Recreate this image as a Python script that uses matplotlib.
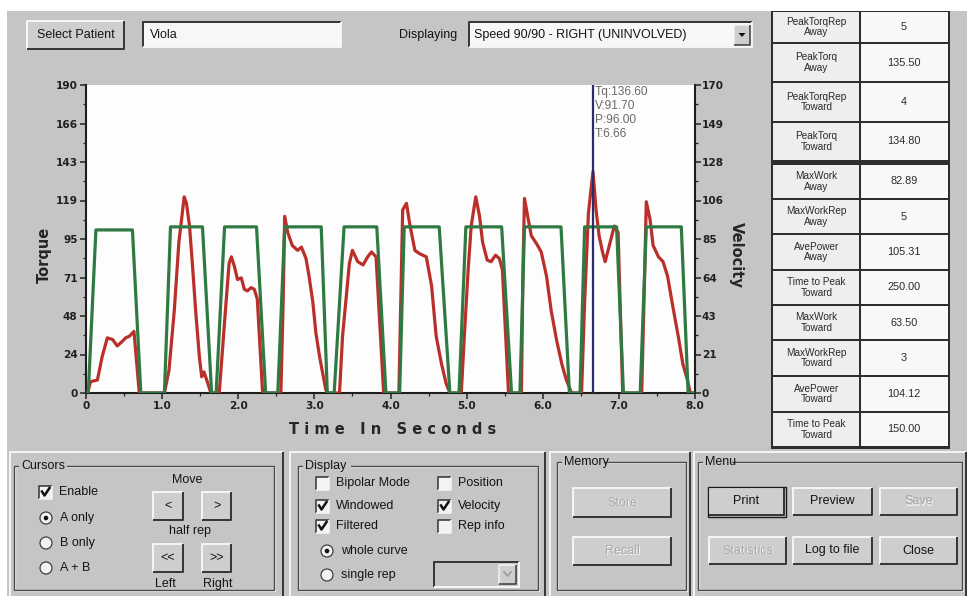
import numpy as np
import matplotlib
matplotlib.use("Agg")
import matplotlib.pyplot as plt
from matplotlib.patches import Rectangle, Circle, Polygon
from matplotlib.ticker import MultipleLocator

# ---------------------------------------------------------------- data
time_ticks = [0, 1, 2, 3, 4, 5, 6, 7, 8]
time_tick_labels = ["0", "1.0", "2.0", "3.0", "4.0", "5.0", "6.0", "7.0", "8.0"]
torque_tick_labels = ["0", "24", "48", "71", "95", "119", "143", "166", "190"]
velocity_tick_labels = ["0", "21", "43", "64", "85", "106", "128", "149", "170"]
torque_max = 190
velocity_max = 170

# velocity trace (s, deg/s)
velocity_time = [0.00, 0.03, 0.13, 0.61, 0.72,
                 1.03, 1.11, 1.53, 1.65,
                 1.71, 1.82, 2.24, 2.36,
                 2.52, 2.61, 3.09, 3.17,
                 3.26, 3.39, 3.82, 3.94,
                 4.12, 4.18, 4.64, 4.78,
                 4.90, 4.99, 5.46, 5.59,
                 5.70, 5.76, 6.24, 6.35,
                 6.49, 6.55, 6.97, 7.06,
                 7.28, 7.36, 7.82, 7.91, 8.00]
velocity_values = [0, 0, 90.0, 90.0, 0,
                   0, 91.7, 91.7, 0,
                   0, 91.7, 91.7, 0,
                   0, 91.7, 91.7, 0,
                   0, 91.7, 91.7, 0,
                   0, 91.7, 91.7, 0,
                   0, 91.7, 91.7, 0,
                   0, 91.7, 91.7, 0,
                   0, 91.7, 91.7, 0,
                   0, 91.7, 91.7, 0, 0]

# torque trace (s, ft-lb)
torque_time = [0.00, 0.02, 0.06, 0.15, 0.21, 0.28, 0.35, 0.41, 0.48, 0.52, 0.57, 0.63, 0.70,
               1.03, 1.09, 1.16, 1.22, 1.27, 1.29, 1.32, 1.36, 1.40, 1.44, 1.49, 1.52, 1.55, 1.60, 1.64,
               1.75, 1.79, 1.84, 1.88, 1.91, 1.95, 1.99, 2.04, 2.08, 2.12, 2.17, 2.21, 2.25, 2.32,
               2.56, 2.59, 2.61, 2.65, 2.71, 2.78, 2.83, 2.89, 2.93, 2.98, 3.02, 3.07, 3.11, 3.15, 3.17,
               3.33, 3.37, 3.42, 3.46, 3.50, 3.57, 3.64, 3.70, 3.75, 3.81, 3.91,
               4.11, 4.16, 4.21, 4.25, 4.32, 4.38, 4.47, 4.54, 4.60, 4.67, 4.73, 4.78,
               4.93, 4.97, 5.02, 5.06, 5.12, 5.17, 5.21, 5.27, 5.32, 5.38, 5.43, 5.47, 5.55,
               5.72, 5.74, 5.76, 5.81, 5.85, 5.92, 5.98, 6.05, 6.11, 6.18, 6.25, 6.31, 6.38,
               6.51, 6.55, 6.60, 6.66, 6.70, 6.74, 6.79, 6.82, 6.88, 6.94, 6.99, 7.05,
               7.30, 7.34, 7.36, 7.41, 7.45, 7.52, 7.58, 7.64, 7.71, 7.78, 7.84, 7.90, 7.94, 8.00]
torque_values = [0, 0, 7, 8, 22, 34, 33, 29, 32, 34, 35, 38, 0,
                 0, 14, 51, 93, 113, 121, 117, 103, 78, 51, 22, 10, 13, 6, 0,
                 0, 25, 56, 80, 84, 78, 70, 71, 64, 63, 65, 64, 58, 0,
                 0, 56, 109, 99, 91, 88, 90, 83, 72, 56, 37, 22, 12, 2, 0,
                 0, 35, 60, 80, 88, 81, 79, 84, 87, 84, 0,
                 0, 113, 117, 105, 88, 86, 84, 66, 35, 18, 6, 0,
                 0, 35, 76, 103, 121, 109, 93, 82, 81, 85, 83, 76, 0,
                 0, 76, 120, 107, 97, 92, 87, 72, 51, 33, 18, 8, 0,
                 0, 56, 111, 136.6, 113, 97, 86, 81, 92, 103, 99, 0,
                 0, 76, 118, 107, 91, 84, 81, 72, 53, 35, 18, 8, 0, 0]

# cursor A readout
cursor_time = 6.66
cursor_lines = ["Tq:136.60", "V:91.70", "P:96.00", "T:6.66"]

# results table
table_labels = ["PeakTorqRep\nAway", "PeakTorq\nAway", "PeakTorqRep\nToward", "PeakTorq\nToward",
                "MaxWork\nAway", "MaxWorkRep\nAway", "AvePower\nAway", "Time to Peak\nToward",
                "MaxWork\nToward", "MaxWorkRep\nToward", "AvePower\nToward", "Time to Peak\nToward"]
table_values = ["5", "135.50", "4", "134.80",
                "82.89", "5", "105.31", "250.00",
                "63.50", "3", "104.12", "150.00"]

patient_name = "Viola"
displaying = "Speed 90/90 - RIGHT (UNINVOLVED)"

# ---------------------------------------------------------------- canvas
W, H, DPI = 967, 596, 100
BG = "#c5c5c5"
FACE = "#cecece"
DARK = "#383838"
MID = "#7c7c7c"
LIGHT = "#f4f4f4"
UIF = "Liberation Sans"

fig = plt.figure(figsize=(W / DPI, H / DPI), dpi=DPI, facecolor=BG)
ui = fig.add_axes([0, 0, 1, 1])
ui.set_xlim(0, W)
ui.set_ylim(H, 0)
ui.axis("off")
ui.set_zorder(0)

PX = 0.72  # one pixel in points


def rect(x0, y0, x1, y1, fc="none", ec="none", lw=1.0, z=1):
    ui.add_patch(Rectangle((x0, y0), x1 - x0, y1 - y0, facecolor=fc,
                           edgecolor=ec, linewidth=lw * PX, zorder=z))


def bevel(x0, y0, x1, y1, raised=True, lw=1.5, z=3):
    tl, br = (LIGHT, DARK) if raised else (DARK, LIGHT)
    ui.plot([x0, x0, x1], [y1, y0, y0], color=tl, lw=lw * PX, zorder=z, solid_capstyle="butt")
    ui.plot([x0, x1, x1], [y1, y1, y0], color=br, lw=lw * PX, zorder=z, solid_capstyle="butt")


def label(x, y, s, size=8.5, ha="left", color="#141414", z=5, **kw):
    ui.text(x, y, s, fontsize=size, ha=ha, va="center", color=color,
            family=UIF, zorder=z, **kw)


def button(x0, y0, x1, y1, s, enabled=True, default=False):
    rect(x0, y0, x1, y1, fc=FACE, z=2)
    bevel(x0, y0, x1, y1, raised=True, lw=2)
    if default:
        rect(x0 - 1.5, y0 - 1.5, x1 + 1.5, y1 + 1.5, ec="#1c1c1c", lw=1.4, z=4)
    cx, cy = (x0 + x1) / 2, (y0 + y1) / 2
    if enabled:
        label(cx, cy, s, size=9, ha="center")
    else:
        label(cx + 1, cy + 1, s, size=9, ha="center", color="#f6f6f6")
        label(cx, cy, s, size=9, ha="center", color="#a8a8a8")


def groupbox(x0, y0, x1, y1, s):
    rect(x0 + 1, y0 + 1, x1 + 1, y1 + 1, ec=LIGHT, lw=1.2, z=2)
    rect(x0, y0, x1, y1, ec="#4a4a4a", lw=1.4, z=2)
    w = len(s) * 6.3 + 4
    rect(x0 + 5, y0 - 5, x0 + 5 + w, y0 + 5, fc=BG, z=3)
    label(x0 + 7, y0, s, size=9)


def checkbox(x, y, checked, s):
    rect(x, y - 6.5, x + 13, y + 6.5, fc="#f3f3f3", z=3)
    bevel(x, y - 6.5, x + 13, y + 6.5, raised=False, lw=1.6, z=4)
    if checked:
        ui.plot([x + 3, x + 5.5, x + 10.5], [y - 0.5, y + 3.5, y - 4],
                color="#111111", lw=1.8, zorder=5)
    label(x + 20, y, s, size=9)


def radio(x, y, selected, s):
    ui.add_patch(Circle((x + 6, y), 6, facecolor="#f3f3f3", edgecolor="#3a3a3a",
                        linewidth=1.2 * PX, zorder=3))
    if selected:
        ui.add_patch(Circle((x + 6, y), 2.3, facecolor="#111111", edgecolor="none", zorder=4))
    label(x + 20, y, s, size=9)


# white scanner margin on the top and left edge
rect(0, 0, W, 11, fc="white", z=1)
rect(0, 0, 7, H, fc="white", z=1)

# ---------------------------------------------------------------- top bar
button(27, 21, 124, 49, "Select Patient")
rect(143, 22, 341, 47, fc="#f7f7f7", z=2)
bevel(143, 22, 341, 47, raised=False, lw=2)
label(150, 35, patient_name, size=9)
label(399, 35, "Displaying", size=9)
rect(469, 22, 752, 47, fc="#f7f7f7", z=2)
bevel(469, 22, 752, 47, raised=False, lw=2)
label(474, 35, displaying, size=9)
rect(734, 25, 750, 45, fc=FACE, z=4)
bevel(734, 25, 750, 45, raised=True, lw=1.5, z=5)
ui.add_patch(Polygon([[738.5, 33], [745.5, 33], [742, 37]], closed=True,
                     facecolor="#111111", edgecolor="none", zorder=6))

# ---------------------------------------------------------------- results table
row_edges = [[11, 43, 82, 122, 161], [164, 199, 234, 270, 305, 340, 376, 412, 447]]
c0, c1, c2 = 773, 860, 948
rect(c0 - 2, 9, c2 + 2, 449, fc="#2e2e2e", z=2)
k = 0
for edges in row_edges:
    for y0, y1 in zip(edges[:-1], edges[1:]):
        rect(c0, y0 + 1, c1 - 1, y1 - 1, fc="#eeeeee", z=3)
        rect(c1 + 1, y0 + 1, c2, y1 - 1, fc="#f8f8f8", z=3)
        ym = (y0 + y1) / 2
        ui.text((c0 + c1) / 2, ym, table_labels[k], fontsize=7.2, ha="center", va="center",
                family=UIF, color="#2a2a2a", linespacing=1.05, zorder=5)
        label((c1 + c2) / 2, ym, table_values[k], size=7.8, ha="center", color="#2a2a2a")
        k += 1
rect(0, 0, W, 11, fc="white", z=6)

# ---------------------------------------------------------------- bottom panels
for x0, x1 in [(10, 283), (290, 545), (550, 690), (694, 966)]:
    rect(x0, 452, x1, 597, fc=BG, z=1)
    bevel(x0, 452, x1, 597, raised=True, lw=2, z=2)

groupbox(14, 466, 274, 590, "Cursors")
checkbox(39, 492, True, "Enable")
radio(40, 518, True, "A only")
radio(40, 543, False, "B only")
radio(40, 568, False, "A + B")
label(187, 480, "Move", size=9, ha="center")
button(153, 492, 183, 520, "<")
button(202, 492, 231, 520, ">")
label(190, 531, "half rep", size=9, ha="center")
button(153, 544, 183, 572, "<<")
button(202, 544, 231, 572, ">>")
label(165, 584, "Left", size=9, ha="center")
label(218, 584, "Right", size=9, ha="center")

groupbox(298, 466, 538, 590, "Display")
checkbox(316, 483, False, "Bipolar Mode")
checkbox(316, 506, True, "Windowed")
checkbox(316, 526, True, "Filtered")
checkbox(438, 483, False, "Position")
checkbox(438, 506, True, "Velocity")
checkbox(438, 526, False, "Rep info")
radio(321, 551, True, "whole curve")
radio(321, 575, False, "single rep")
rect(434, 562, 519, 587, fc=BG, z=2)
bevel(434, 562, 519, 587, raised=False, lw=2)
rect(499, 565, 516, 584, fc=FACE, z=4)
bevel(499, 565, 516, 584, raised=True, lw=1.5, z=5)
ui.plot([504, 507.5, 511], [572, 576, 572], color="#9a9a9a", lw=1.2, zorder=6)

groupbox(557, 462, 686, 590, "Memory")
button(573, 488, 671, 517, "Store", enabled=False)
button(573, 537, 671, 565, "Recall", enabled=False)

groupbox(698, 462, 962, 590, "Menu")
button(709, 488, 784, 515, "Print", default=True)
button(793, 488, 872, 515, "Preview")
button(880, 488, 957, 515, "Save", enabled=False)
button(709, 537, 786, 564, "Statistics", enabled=False)
button(793, 537, 872, 564, "Log to file")
button(880, 537, 957, 564, "Close")

# ---------------------------------------------------------------- chart
L, R, T, B = 86, 695, 85, 393
ax = fig.add_axes([L / W, 1 - B / H, (R - L) / W, (B - T) / H])
ax.set_zorder(2)
ax.set_facecolor("#fdfdfd")
ax.set_xlim(0, 8)
ax.set_ylim(0, torque_max)

ax2 = ax.twinx()
ax2.set_ylim(0, velocity_max)

red = "#bb2f2a"
green = "#2f7a42"
ax.plot(torque_time, torque_values, color=red, lw=2.3, solid_joinstyle="round", zorder=3)
ax2.plot(velocity_time, velocity_values, color=green, lw=2.3, solid_joinstyle="round", zorder=3)

# cursor A
ax2.axvline(cursor_time, color="#2a2c6e", lw=1.6, zorder=5)
ax2.annotate("\n".join(cursor_lines), xy=(cursor_time, 1.0), xycoords=("data", "axes fraction"),
             xytext=(1.5, -1), textcoords="offset points", ha="left", va="top",
             fontsize=8.6, color="#6a6a6a", family=UIF, linespacing=1.22, zorder=6)

tick_font = dict(fontsize=7.6, fontweight="bold", color="#202020", family="DejaVu Sans")
ax.set_xticks(time_ticks)
ax.set_xticklabels(time_tick_labels, **tick_font)
ax.set_yticks(np.linspace(0, torque_max, len(torque_tick_labels)))
ax.set_yticklabels(torque_tick_labels, **tick_font)
ax2.set_yticks(np.linspace(0, velocity_max, len(velocity_tick_labels)))
ax2.set_yticklabels(velocity_tick_labels, **tick_font)
ax.xaxis.set_minor_locator(MultipleLocator(0.5))
ax.yaxis.set_minor_locator(MultipleLocator(torque_max / 16))
ax2.yaxis.set_minor_locator(MultipleLocator(velocity_max / 16))

ax.tick_params(axis="both", which="major", direction="out", length=4, width=1.1,
               color="#222222", pad=2)
ax.tick_params(axis="both", which="minor", direction="out", length=2.2, width=0.9,
               color="#222222")
ax2.tick_params(axis="y", which="major", direction="out", length=4, width=1.1,
                color="#222222", pad=1)
ax2.tick_params(axis="y", which="minor", direction="out", length=2.2, width=0.9,
                color="#222222")

for a in (ax, ax2):
    for side in ("top", "right", "left", "bottom"):
        a.spines[side].set_visible(False)
ax.spines["left"].set_visible(True)
ax.spines["bottom"].set_visible(True)
ax2.spines["right"].set_visible(True)
for sp in (ax.spines["left"], ax.spines["bottom"], ax2.spines["right"]):
    sp.set_color("#1e1e1e")
    sp.set_linewidth(1.5)

axis_font = dict(fontsize=10.5, fontweight="bold", color="#262626", family="DejaVu Sans")
ui.text(44, 255, "Torque", rotation=90, ha="center", va="center", zorder=5, **axis_font)
ui.text(736, 255, "Velocity", rotation=270, ha="center", va="center", zorder=5, **axis_font)
ui.text(393, 430, "T i m e   I n   S e c o n d s", ha="center", va="center", zorder=5,
        **axis_font)

fig.savefig("out.png", dpi=DPI, facecolor=BG)
